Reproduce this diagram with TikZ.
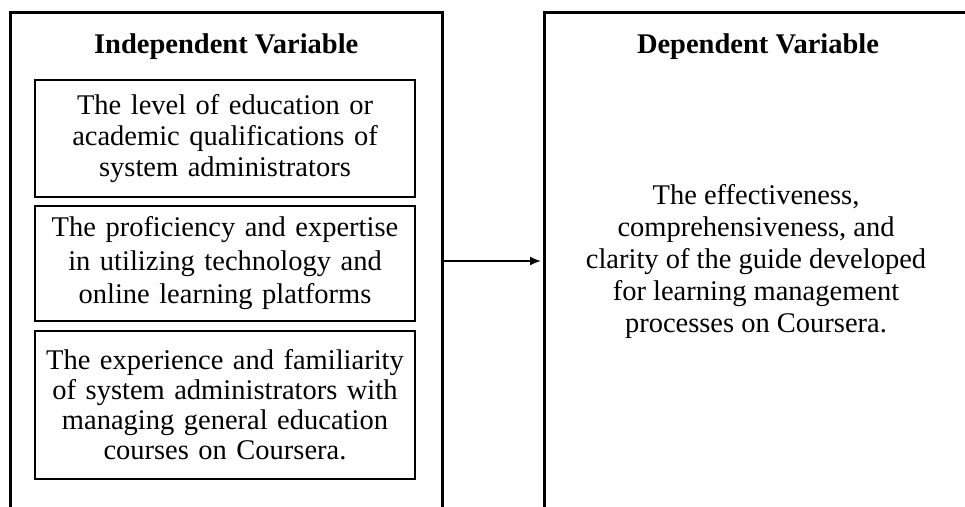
\documentclass[tikz,border=0pt]{standalone}
\usepackage{fontspec}
\setmainfont{Liberation Serif}
\usetikzlibrary{arrows.meta}
\tikzset{>=latex}
\newcommand{\bodyfont}[1]{\fontsize{28.5}{#1}\selectfont}
\tikzstyle{panel}=[draw, rectangle, line width=3pt, minimum height=498pt, inner sep=0pt]
\tikzstyle{factor}=[draw, rectangle, line width=1.6pt, minimum width=380pt, text width=376pt, inner sep=0pt, align=center]
\tikzstyle{heading}=[anchor=base, inner sep=0pt, font=\bodyfont{33}\bfseries]

\begin{document}
\begin{tikzpicture}[x=1pt, y=-1pt]
                \useasboundingbox (0,0) rectangle (965,506);
                \clip (0,0) rectangle (965,506);
                % Panels
                \node [panel, minimum width=431.5pt] (indep) at (226.25,261) {};
                \node [panel, minimum width=428pt] (dep) at (758,261) {};
                \node [heading] (indeptitle) at (226.25,53) {Independent Variable};
                \node [heading] (deptitle) at (758,53) {Dependent Variable};
                
                % Independent factors
                \node [factor, minimum height=117pt, font=\bodyfont{31}] (edu) at (225,138.5) {The level of education or\\academic qualifications of\\system administrators};
                \node [factor, minimum height=115pt, font=\bodyfont{33.5}] (skill) at (225,263.5) {The proficiency and expertise\\in utilizing technology and\\online learning platforms};
                \node [factor, minimum height=148pt, font=\bodyfont{30}] (exp) at (225,405) {The experience and familiarity\\of system administrators with\\managing general education\\courses on Coursera.};
                
                % Dependent outcome
                \node [align=center, inner sep=0pt, font=\bodyfont{32}] (guide) at (756,261) {The effectiveness,\\comprehensiveness, and\\clarity of the guide developed\\for learning management\\processes on Coursera.};
                
                % Arrow
                \draw [-{Latex[length=11pt,width=9pt]}, line width=1.8pt, shorten >=1.5pt] (indep.east) -- (dep.west);
            \end{tikzpicture}
\end{document}
